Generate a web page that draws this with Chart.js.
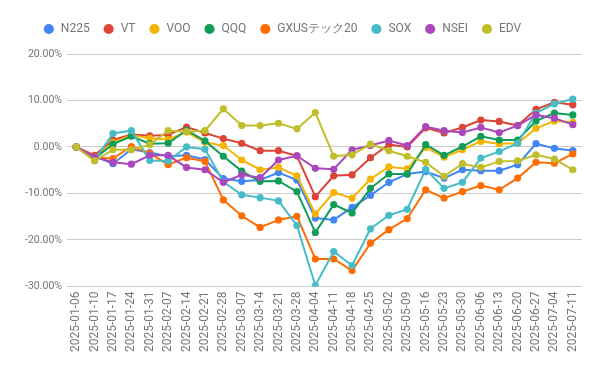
<!DOCTYPE html>
<html><head><meta charset="utf-8">
<script src="https://cdn.jsdelivr.net/npm/chart.js@4"></script>
<style>html,body{margin:0;padding:0;background:#fff}#wrap{width:600px;height:371px;position:relative}</style>
</head><body><div id="wrap"><canvas id="c"></canvas></div>
<script>
const categories = ["2025-01-06","2025-01-10","2025-01-17","2025-01-24","2025-01-31","2025-02-07","2025-02-14","2025-02-21","2025-02-28","2025-03-07","2025-03-14","2025-03-21","2025-03-28","2025-04-04","2025-04-11","2025-04-18","2025-04-25","2025-05-02","2025-05-09","2025-05-16","2025-05-23","2025-05-30","2025-06-06","2025-06-13","2025-06-20","2025-06-27","2025-07-04","2025-07-11"];
const seriesNames = ["N225","VT","VOO","QQQ","GXUSテック20","SOX","NSEI","EDV"];
const N225 = [0,-2.0,-3.6,-0.5,-1.2,-2.0,-1.8,-2.7,-6.8,-7.4,-7.1,-5.5,-7.1,-15.3,-15.7,-13.0,-10.4,-7.6,-5.8,-5.3,-6.7,-4.9,-5.1,-5.1,-3.8,0.7,-0.3,-0.8];
const VT = [0,-1.8,1.5,2.7,2.4,2.6,4.3,3.0,1.8,0.8,-0.8,-0.8,-1.9,-10.7,-6.2,-6.0,-2.3,0.5,0.0,4.1,3.0,4.2,5.8,5.5,4.6,8.1,9.6,9.1];
const VOO = [0,-2.2,1.0,2.5,1.9,1.6,3.2,1.0,0.3,-2.8,-4.9,-4.4,-6.2,-14.4,-9.8,-11.0,-6.9,-4.3,-4.7,-0.1,-2.2,-0.6,1.2,0.7,0.8,4.0,5.6,5.3];
const QQQ = [0,-2.5,0.6,2.3,0.7,0.8,3.6,1.3,-2.0,-5.2,-7.4,-7.3,-9.6,-18.4,-12.4,-14.2,-8.9,-5.8,-5.8,0.5,-1.8,0.1,2.3,1.5,1.5,5.6,7.3,6.9];
const GXUS = [0,-2.3,-2.5,0.1,-1.4,-3.8,-2.3,-3.1,-11.4,-14.8,-17.3,-15.7,-14.9,-24.1,-24.1,-26.6,-20.7,-17.8,-15.4,-9.2,-11.0,-9.6,-8.3,-9.2,-6.7,-3.3,-3.5,-1.5];
const SOX = [0,-2.8,2.9,3.5,-2.9,-3.0,0.0,-0.5,-7.5,-10.3,-10.9,-11.6,-16.9,-29.8,-22.5,-25.5,-17.6,-14.7,-13.4,-4.8,-8.9,-7.6,-2.4,-1.0,0.8,7.3,9.3,10.3];
const NSEI = [0,-2.2,-3.3,-3.7,-1.8,-1.8,-4.4,-4.9,-7.6,-6.0,-6.6,-2.8,-1.9,-4.6,-4.8,-0.6,0.3,1.4,0.3,4.4,3.5,3.1,4.2,3.1,4.6,6.9,6.2,4.8];
const EDV = [0,-3.0,-0.6,-0.6,0.5,3.5,3.3,3.5,8.2,4.6,4.6,5.1,3.9,7.4,-2.0,-1.7,0.6,-0.8,-2.0,-3.3,-6.3,-3.6,-4.4,-3.1,-3.0,-1.7,-2.6,-4.9];
const yTicks = [20,10,0,-10,-20,-30];

const seriesValues = [N225,VT,VOO,QQQ,GXUS,SOX,NSEI,EDV];
const colors = ["#4285F4","#DB4437","#F4B400","#0F9D58","#FF6D00","#46BDC6","#AB47BC","#C0BE2A"];

const datasets = seriesNames.map((n,i)=>({
  label:n, data:seriesValues[i], borderColor:colors[i], backgroundColor:colors[i],
  pointBackgroundColor:colors[i], pointBorderWidth:0, pointRadius:3.6, borderWidth:2,
  tension:0, order: seriesNames.length - i
}));

const legendSpace = {id:'legendSpace',
  beforeInit(chart){
    const orig = chart.legend.fit;
    chart.legend.fit = function(){ orig.call(this); this.height += 9; };
  },
  beforeDraw(chart){
    const lg = chart.legend;
    if (lg && !lg._shifted){ lg.left -= 18; lg._shifted = true; }
  }
};

new Chart(document.getElementById('c'), {
  type:'line',
  data:{labels:categories, datasets},
  options:{
    responsive:true, maintainAspectRatio:false, animation:false,
    layout:{padding:{top:10,right:18,left:0,bottom:14}},
    plugins:{
      legend:{position:'top', align:'center',
        labels:{usePointStyle:true, pointStyle:'circle', boxWidth:12, boxHeight:7.2, padding:13,
          color:'#757575', font:{family:'Roboto', size:12},
          sort:(a,b)=>a.datasetIndex-b.datasetIndex}},
      tooltip:{enabled:false}
    },
    scales:{
      x:{type:'category', offset:true,
        grid:{display:false, drawTicks:false}, border:{display:false},
        ticks:{autoSkip:false, minRotation:90, maxRotation:90, color:'#757575', padding:5,
          font:{family:'Roboto', size:12}}},
      y:{min:-30, max:20,
        afterBuildTicks(s){ s.ticks = yTicks.map(v=>({value:v})); },
        afterFit(s){ s.width = 67; },
        grid:{color:'#cccccc', lineWidth:1, drawTicks:false}, border:{display:false},
        ticks:{color:'#757575', padding:5, font:{family:'Roboto', size:10.5},
          callback:v=>Number(v).toFixed(2)+'%'}}
    }
  },
  plugins:[legendSpace]
});
</script></body></html>
